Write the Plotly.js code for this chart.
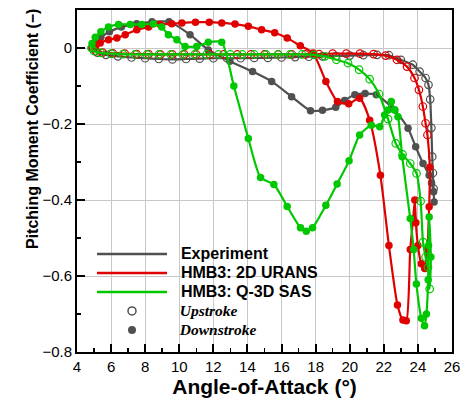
<!DOCTYPE html>
<html>
<head>
<meta charset="utf-8">
<script src="https://cdn.plot.ly/plotly-3.0.1.min.js"></script>
<style>
  html, body { margin: 0; padding: 0; background: #ffffff; }
  #chart { width: 460px; height: 400px; }
</style>
</head>
<body>
<div id="chart"></div>
<script>
// Pitching moment hysteresis loops: angle of attack (deg) vs Cm

// Experiment
const expUpAoA = [4.95, 5.2, 5.7, 6.4, 7.2, 8.0, 8.8, 9.6, 10.4, 11.2, 12.0, 12.8, 13.6, 14.4, 15.2, 16.0, 16.8, 17.6, 18.4, 19.2, 20.0, 20.8, 21.6, 22.3, 23.0, 23.7, 24.1, 24.45, 24.62, 24.72, 24.79, 24.84, 24.88, 24.92];
const expUpCm  = [0.0, -0.012, -0.018, -0.022, -0.025, -0.027, -0.029, -0.030, -0.029, -0.028, -0.027, -0.027, -0.027, -0.026, -0.026, -0.025, -0.024, -0.023, -0.022, -0.021, -0.020, -0.019, -0.018, -0.019, -0.031, -0.044, -0.062, -0.079, -0.097, -0.135, -0.21, -0.286, -0.329, -0.37];
const expDownAoA = [24.95, 24.92, 24.8, 24.66, 24.3, 23.87, 23.42, 22.64, 21.56, 20.9, 20.3, 19.7, 19.18, 18.4, 17.7, 16.59, 15.42, 14.3, 12.97, 11.7, 10.63, 9.4, 8.4, 7.5, 6.6, 5.9, 5.4, 5.08];
const expDownCm  = [-0.405, -0.378, -0.355, -0.335, -0.304, -0.26, -0.211, -0.163, -0.123, -0.120, -0.123, -0.138, -0.156, -0.164, -0.165, -0.128, -0.088, -0.062, -0.035, -0.005, 0.035, 0.069, 0.069, 0.064, 0.055, 0.043, 0.028, 0.012];

// HMB3: 2D URANS
const uransUpAoA = [4.9, 5.1, 5.5, 6.1, 6.8, 7.5, 8.2, 8.9, 9.6, 10.3, 11.0, 11.8, 12.6, 13.4, 14.2, 15.0, 15.8, 16.6, 17.4, 18.2, 19.0, 19.8, 20.6, 21.4, 22.1, 22.77, 23.36, 23.8, 24.06, 24.29, 24.45, 24.56];
const uransUpCm  = [0.0, -0.008, -0.012, -0.014, -0.015, -0.016, -0.016, -0.017, -0.017, -0.017, -0.017, -0.017, -0.017, -0.017, -0.017, -0.017, -0.017, -0.017, -0.017, -0.016, -0.015, -0.015, -0.015, -0.016, -0.020, -0.031, -0.049, -0.079, -0.11, -0.154, -0.198, -0.229];
const uransDownAoA = [24.7, 24.66, 24.55, 24.4, 24.2, 24.0, 23.88, 23.82, 23.72, 23.55, 23.32, 23.12, 22.8, 22.3, 21.8, 21.17, 20.58, 19.94, 19.28, 18.6, 17.85, 17.1, 16.33, 15.6, 14.83, 14.05, 13.27, 12.49, 11.76, 10.95, 10.15, 9.56, 8.88, 8.2, 7.51, 6.83, 6.34, 5.85, 5.36, 5.1];
const uransDownCm  = [-0.314, -0.418, -0.53, -0.58, -0.568, -0.52, -0.46, -0.40, -0.45, -0.53, -0.718, -0.716, -0.676, -0.52, -0.335, -0.19, -0.132, -0.147, -0.141, -0.088, -0.013, 0.006, 0.026, 0.04, 0.048, 0.057, 0.063, 0.066, 0.068, 0.068, 0.066, 0.064, 0.062, 0.055, 0.048, 0.035, 0.026, 0.022, 0.013, 0.006];

// HMB3: Q-3D SAS
const sasUpAoA = [4.85, 5.0, 5.4, 6.0, 6.7, 7.4, 8.1, 8.8, 9.5, 10.2, 10.9, 11.6, 12.3, 13.0, 13.7, 14.4, 15.1, 15.8, 16.5, 17.2, 17.9, 18.54, 19.22, 19.9, 20.55, 21.17, 21.72, 22.25, 22.7, 23.1, 23.55, 23.92, 24.16, 24.3, 24.45, 24.59, 24.69];
const sasUpCm  = [0.0, -0.008, -0.013, -0.015, -0.016, -0.017, -0.017, -0.017, -0.017, -0.017, -0.017, -0.017, -0.017, -0.017, -0.017, -0.017, -0.017, -0.017, -0.017, -0.017, -0.018, -0.022, -0.031, -0.04, -0.057, -0.082, -0.121, -0.187, -0.251, -0.28, -0.304, -0.33, -0.403, -0.511, -0.55, -0.577, -0.634];
const sasDownAoA = [24.76, 24.66, 24.62, 24.6, 24.5, 24.39, 24.2, 23.91, 23.75, 23.55, 23.08, 22.83, 22.64, 22.44, 22.25, 22.05, 21.76, 21.27, 20.58, 19.96, 19.26, 18.6, 17.82, 17.45, 17.11, 16.33, 15.55, 14.77, 14.05, 13.2, 12.49, 11.7, 11.02, 10.34, 9.86, 9.36, 8.97, 8.47, 7.8, 7.12, 6.44, 5.85, 5.4, 5.07, 4.88];
const sasDownCm  = [-0.55, -0.445, -0.52, -0.61, -0.70, -0.731, -0.711, -0.621, -0.53, -0.449, -0.286, -0.181, -0.163, -0.141, -0.163, -0.176, -0.207, -0.203, -0.229, -0.297, -0.358, -0.414, -0.473, -0.482, -0.473, -0.417, -0.359, -0.341, -0.238, -0.1, 0.015, 0.015, 0.004, 0.004, 0.022, 0.035, 0.055, 0.063, 0.062, 0.062, 0.062, 0.055, 0.043, 0.028, 0.012];

// Axis ticks
const xTickVals = [4, 6, 8, 10, 12, 14, 16, 18, 20, 22, 24, 26];
const yTickVals = [-0.8, -0.6, -0.4, -0.2, 0];

const GREY = '#505050';
const RED = '#e00000';
const GREEN = '#00c800';
const FONT = 'Liberation Sans, Arial, sans-serif';

function loopTraces(upX, upY, downX, downY, color) {
  const lineX = upX.concat(downX, [upX[0]]);
  const lineY = upY.concat(downY, [upY[0]]);
  return [
    { x: lineX, y: lineY, mode: 'lines', line: { color: color, width: 2.2, shape: 'spline', smoothing: 0.6 },
      showlegend: false, hoverinfo: 'skip' },
    { x: upX, y: upY, mode: 'markers', marker: { symbol: 'circle-open', size: 7.5, color: color, line: { width: 1.2, color: color } },
      showlegend: false },
    { x: downX, y: downY, mode: 'markers', marker: { symbol: 'circle', size: 7.5, color: color },
      showlegend: false }
  ];
}

const legendItem = (name, style) => Object.assign({ x: [null], y: [null], name: name }, style);
const GAP = '\u00a0\u00a0';
const sansLabel = t => '<span style="font-size:16px"><b>' + GAP + t + '</b></span>';
const serifLabel = t => '<span style="font-family:\'Liberation Serif\', Times, serif;font-size:15.5px"><b><i>' + GAP + t + '</i></b></span>';

const data = [].concat(
  loopTraces(expUpAoA, expUpCm, expDownAoA, expDownCm, GREY),
  loopTraces(uransUpAoA, uransUpCm, uransDownAoA, uransDownCm, RED),
  loopTraces(sasUpAoA, sasUpCm, sasDownAoA, sasDownCm, GREEN),
  [
    legendItem(sansLabel('Experiment'), { mode: 'lines', line: { color: GREY, width: 2.5 } }),
    legendItem(sansLabel('HMB3: 2D URANS'), { mode: 'lines', line: { color: RED, width: 2.5 } }),
    legendItem(sansLabel('HMB3: Q-3D SAS'), { mode: 'lines', line: { color: GREEN, width: 2.5 } }),
    legendItem(serifLabel('Upstroke'), { mode: 'markers', marker: { symbol: 'circle-open', size: 8, color: GREY, line: { width: 1.5, color: GREY } } }),
    legendItem(serifLabel('Downstroke'), { mode: 'markers', marker: { symbol: 'circle', size: 8, color: GREY } })
  ]
);

const axisCommon = {
  showline: true, mirror: true, linecolor: '#000000', linewidth: 2,
  ticks: 'inside', ticklen: 8, tickwidth: 2, tickcolor: '#000000',
  showgrid: true, gridcolor: '#c8c8c8', gridwidth: 1,
  zeroline: false,
  tickfont: { family: FONT, size: 15, color: '#000000' },
  ticklabeloverflow: 'allow',
  automargin: false
};

const layout = {
  width: 460, height: 400,
  margin: { l: 77, r: 8, t: 10, b: 48 },
  paper_bgcolor: '#ffffff', plot_bgcolor: '#ffffff',
  showlegend: true,
  legend: {
    x: 0.04, y: 0.329, xanchor: 'left', yanchor: 'top',
    bgcolor: 'rgba(0,0,0,0)', borderwidth: 0,
    itemwidth: 70,
    font: { family: FONT, size: 12, color: '#000000' },
    itemclick: false, itemdoubleclick: false
  },
  xaxis: Object.assign({}, axisCommon, {
    range: [4, 26], tickvals: xTickVals,
    minor: { dtick: 1, tick0: 4, ticks: 'inside', ticklen: 4, tickwidth: 1.5, tickcolor: '#000000', showgrid: false },
    title: { text: 'Angle-of-Attack (°)', font: { family: FONT, size: 21, weight: 'bold', color: '#000000' }, standoff: 5 }
  }),
  yaxis: Object.assign({}, axisCommon, {
    range: [-0.8, 0.1], tickvals: yTickVals,
    minor: { dtick: 0.1, tick0: 0, ticks: 'inside', ticklen: 4, tickwidth: 1.5, tickcolor: '#000000', showgrid: false }
  }),
  annotations: [{
    text: '<b>Pitching Moment Coefficient (−)</b>',
    xref: 'paper', yref: 'paper', x: -0.12, y: 0.652,
    xanchor: 'center', yanchor: 'middle', textangle: -90, showarrow: false,
    font: { family: FONT, size: 16, color: '#000000' }
  }]
};

Plotly.newPlot('chart', data, layout, { displayModeBar: false, staticPlot: true });
</script>
</body>
</html>
